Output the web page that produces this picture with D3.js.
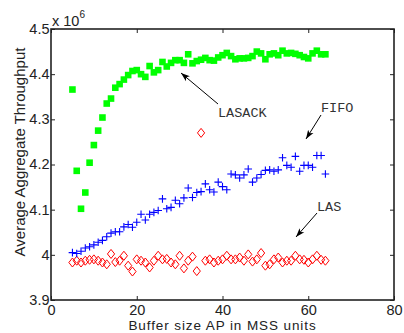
<!DOCTYPE html>
<html><head><meta charset="utf-8">
<script src="https://cdn.jsdelivr.net/npm/d3@7"></script>
<style>body{margin:0;background:#fff}svg{display:block}</style>
</head><body><svg id="c" width="404" height="333"></svg>
<script>
// Buffer size (MSS units)
const bufferSizes = [5,6,7,8,9,10,11,12,13,14,15,16,17,18,19,20,21,22,23,24,25,26,27,28,29,30,31,32,33,34,35,36,37,38,39,40,41,42,43,44,45,46,47,48,49,50,51,52,53,54,55,56,57,58,59,60,61,62,63,64];
// Average aggregate throughput, x 10^6
const lasack = [4.366,4.186,4.102,4.138,4.204,4.243,4.275,4.304,4.335,4.346,4.370,4.378,4.388,4.398,4.407,4.409,4.400,4.394,4.418,4.404,4.409,4.427,4.417,4.425,4.431,4.431,4.425,4.444,4.424,4.429,4.432,4.436,4.431,4.430,4.437,4.442,4.447,4.440,4.433,4.435,4.435,4.436,4.440,4.450,4.446,4.433,4.444,4.446,4.442,4.452,4.446,4.447,4.445,4.442,4.438,4.435,4.446,4.452,4.444,4.444];
const fifo = [4.005,4.003,4.008,4.015,4.018,4.022,4.028,4.032,4.040,4.048,4.051,4.051,4.062,4.067,4.061,4.072,4.090,4.077,4.090,4.094,4.098,4.124,4.102,4.105,4.121,4.113,4.126,4.148,4.127,4.138,4.140,4.157,4.144,4.139,4.161,4.151,4.144,4.179,4.177,4.170,4.177,4.190,4.161,4.170,4.178,4.187,4.188,4.185,4.188,4.215,4.198,4.194,4.218,4.185,4.198,4.198,4.194,4.220,4.220,4.179];
const las = [3.983,3.987,3.983,3.987,3.989,3.990,3.987,3.983,3.979,4.002,3.984,3.987,3.998,3.976,3.963,3.990,3.987,3.983,3.972,3.987,3.998,3.990,3.991,3.983,3.979,3.998,3.970,3.987,3.996,3.964,4.270,3.987,3.990,3.983,3.987,3.990,3.998,3.990,3.990,3.994,3.987,4.001,3.985,3.990,4.004,3.976,3.979,3.990,3.994,3.983,3.987,3.987,3.998,3.990,3.989,3.983,3.990,3.998,3.989,3.987];

const xTicks = [0,20,40,60,80];
const xTickLabels = ["0","20","40","60","80"];
const yTicks = [3.9,4.0,4.1,4.2,4.3,4.4,4.5];
const yTickLabels = ["3.9","4","4.1","4.2","4.3","4.4","4.5"];

const annotations = [
  {label:"LASACK", text:[218,117], from:[218,104], to:[181,73]},
  {label:"FIFO", text:[321,112], from:[321,115], to:[306,139]},
  {label:"LAS", text:[317,211], from:[317,213], to:[296,237]}
];

const L=51, R=394, T=29, B=300;
const svg = d3.select("#c");
const x = d3.scaleLinear().domain([0,80]).range([L,R]);
const y = d3.scaleLinear().domain([3.9,4.5]).range([B,T]);
const font = "Liberation Sans, Arial, sans-serif";

svg.append("defs").append("marker")
  .attr("id","ah").attr("viewBox","0 0 10 10").attr("refX",10).attr("refY",5)
  .attr("markerWidth",9).attr("markerHeight",9).attr("markerUnits","userSpaceOnUse")
  .attr("orient","auto")
  .append("path").attr("d","M0,1.5 L10,5 L0,8.5 L2.5,5 Z").attr("fill","#000");

// Data: LAS diamonds
const gL = svg.append("g");
gL.selectAll("path").data(bufferSizes).join("path")
  .attr("d",(d,i)=>{const cx=x(d), cy=y(las[i]);return `M${cx},${cy-4.5}L${cx+3.6},${cy}L${cx},${cy+4.5}L${cx-3.6},${cy}Z`;})
  .attr("fill","none").attr("stroke","#ff0000").attr("stroke-width",1);

// FIFO crosses
const gF = svg.append("g");
gF.selectAll("path").data(bufferSizes).join("path")
  .attr("d",(d,i)=>{const cx=x(d), cy=y(fifo[i]);return `M${cx-3.8},${cy}H${cx+3.8}M${cx},${cy-3.8}V${cy+3.8}`;})
  .attr("stroke","#0000ff").attr("stroke-width",1.1);

// LASACK squares
const gA = svg.append("g");
gA.selectAll("rect").data(bufferSizes).join("rect")
  .attr("x",d=>x(d)-3.3).attr("y",(d,i)=>y(lasack[i])-3.3)
  .attr("width",6.6).attr("height",6.6).attr("fill","#00ff00");

// Axes
const ax = svg.append("g").attr("transform",`translate(0,${B})`)
  .call(d3.axisBottom(x).tickValues(xTicks).tickFormat((d,i)=>xTickLabels[i]).tickSizeInner(-4).tickSizeOuter(0).tickPadding(5.5));
const axT = svg.append("g").attr("transform",`translate(0,${T})`)
  .call(d3.axisTop(x).tickValues(xTicks).tickFormat("").tickSizeInner(-4).tickSizeOuter(0));
const ay = svg.append("g").attr("transform",`translate(${L},0)`)
  .call(d3.axisLeft(y).tickValues(yTicks).tickFormat((d,i)=>yTickLabels[i]).tickSizeInner(-4).tickSizeOuter(0).tickPadding(1.5));
const ayR = svg.append("g").attr("transform",`translate(${R},0)`)
  .call(d3.axisRight(y).tickValues(yTicks).tickFormat("").tickSizeInner(-4).tickSizeOuter(0));
[ax,axT,ay,ayR].forEach(g=>{
  g.select(".domain").remove();
  g.selectAll("line").attr("stroke","#222").attr("stroke-width",1);
  g.selectAll("text").attr("font-family",font).attr("font-size",14.5).attr("fill","#222");
});
ay.selectAll("text").attr("dy","0.3em");
ax.selectAll("text").attr("dy","0.68em");

svg.append("rect").attr("x",L).attr("y",T).attr("width",R-L).attr("height",B-T)
  .attr("fill","none").attr("stroke","#222").attr("stroke-width",1.6);

// Exponent
const ex = svg.append("text").attr("x",52).attr("y",26).attr("font-family",font).attr("font-size",14.5).attr("fill","#222");
ex.append("tspan").text("x 10");
ex.append("tspan").attr("font-size",10).attr("dy",-8).text("6");

// Labels
svg.append("text").attr("x",(L+R)/2).attr("y",330.3).attr("text-anchor","middle")
  .attr("font-family",font).attr("font-size",13.5).attr("letter-spacing",0.9).attr("fill","#222").text("Buffer size AP in MSS units");
svg.append("text").attr("transform","translate(25,152) rotate(-90)").attr("text-anchor","middle")
  .attr("font-family",font).attr("font-size",15).attr("fill","#222").text("Average Aggregate Throughput");

// Annotations
annotations.forEach(a=>{
  svg.append("line").attr("x1",a.from[0]).attr("y1",a.from[1]).attr("x2",a.to[0]).attr("y2",a.to[1])
    .attr("stroke","#000").attr("stroke-width",1).attr("marker-end","url(#ah)");
  svg.append("text").attr("x",a.text[0]).attr("y",a.text[1])
    .attr("font-family","Liberation Mono, monospace").attr("font-size",13.5).attr("fill","#333").text(a.label);
});
</script></body></html>
